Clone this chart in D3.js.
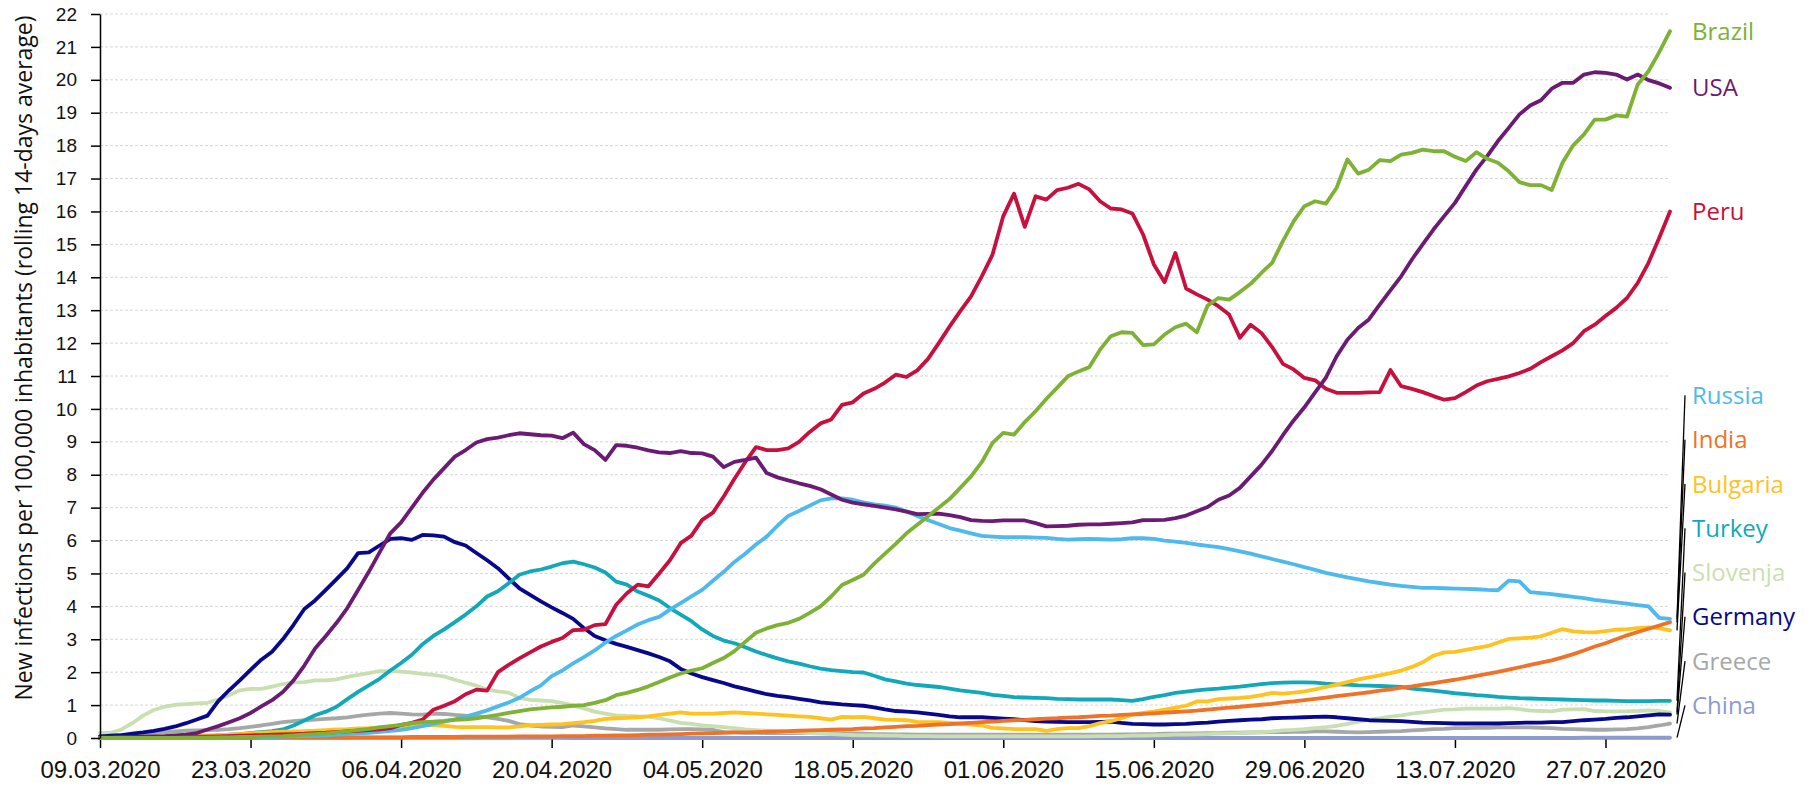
<!DOCTYPE html>
<html>
<head>
<meta charset="utf-8">
<script src="https://cdn.jsdelivr.net/npm/d3@7"></script>
<style>
  body { margin: 0; background: #fff; }
  svg { display: block; font-family: "Open Sans", "Noto Sans", sans-serif; }
  .grid line { stroke: #d6d6d6; stroke-width: 1; stroke-dasharray: 3,2; }
  .series { fill: none; stroke-width: 3.8; stroke-linejoin: round; stroke-linecap: round; }
  .axis text { fill: #111; }
  .axis line, .axis path { stroke: #000; }
</style>
</head>
<body>
<div id="chart"></div>
<script>
// daily values from 09.03.2020, new infections per 100k (rolling 14 days)
var startDay = "09.03.2020";
var xTickLabels = ["09.03.2020", "23.03.2020", "06.04.2020", "20.04.2020", "04.05.2020", "18.05.2020",
  "01.06.2020", "15.06.2020", "29.06.2020", "13.07.2020", "27.07.2020"];
var yTicks = d3.range(0, 23);

var brazil = [
  0, 0, 0, 0, 0, 0, 0, 0, 0.01, 0.01,
  0.01, 0.02, 0.02, 0.03, 0.03, 0.04, 0.05, 0.06, 0.08, 0.1,
  0.12, 0.14, 0.17, 0.2, 0.24, 0.28, 0.32, 0.36, 0.4, 0.45,
  0.48, 0.5, 0.52, 0.55, 0.57, 0.6, 0.65, 0.7, 0.76, 0.82,
  0.87, 0.9, 0.93, 0.95, 0.98, 1.0, 1.07, 1.15, 1.3, 1.37,
  1.46, 1.57, 1.7, 1.84, 1.96, 2.05, 2.12, 2.28, 2.43, 2.64,
  2.92, 3.2, 3.33, 3.43, 3.5, 3.62, 3.8, 4.0, 4.3, 4.65,
  4.8, 4.96, 5.3, 5.6, 5.9, 6.22, 6.48, 6.74, 7.0, 7.26,
  7.6, 7.95, 8.38, 8.97, 9.27, 9.22, 9.6, 9.93, 10.3, 10.64,
  10.99, 11.14, 11.27, 11.8, 12.21, 12.33, 12.31, 11.94, 11.96, 12.26,
  12.48, 12.59, 12.33, 13.14, 13.37, 13.32, 13.55, 13.8, 14.13, 14.44,
  15.1, 15.7, 16.16, 16.31, 16.24, 16.72, 17.58, 17.15, 17.27, 17.56,
  17.53, 17.73, 17.78, 17.88, 17.83, 17.83, 17.66, 17.53, 17.8, 17.6,
  17.48, 17.22, 16.89, 16.8, 16.8, 16.65, 17.48, 18.01, 18.34, 18.79,
  18.79, 18.92, 18.88, 19.86, 20.26, 20.84, 21.48];

var usa = [
  0.02, 0.02, 0.03, 0.03, 0.04, 0.05, 0.06, 0.08, 0.1, 0.15,
  0.26, 0.36, 0.48, 0.6, 0.76, 0.96, 1.15, 1.4, 1.75, 2.2,
  2.72, 3.1, 3.5, 3.95, 4.5, 5.05, 5.64, 6.22, 6.55, 7.0,
  7.45, 7.85, 8.2, 8.55, 8.75, 8.98, 9.08, 9.13, 9.2, 9.26,
  9.23, 9.2, 9.19, 9.11, 9.28, 8.93, 8.75, 8.45, 8.9, 8.88,
  8.82, 8.74, 8.68, 8.66, 8.72, 8.66, 8.65, 8.55, 8.23, 8.39,
  8.45, 8.52, 8.05, 7.92, 7.83, 7.74, 7.66, 7.56, 7.4, 7.24,
  7.15, 7.1, 7.05, 7.0, 6.95, 6.88, 6.8, 6.81, 6.82, 6.77,
  6.71, 6.62, 6.6, 6.59, 6.61, 6.61, 6.61, 6.53, 6.43, 6.44,
  6.45, 6.48, 6.49, 6.49, 6.51, 6.53, 6.55, 6.62, 6.62, 6.63,
  6.68, 6.76, 6.89, 7.02, 7.24, 7.37, 7.6, 7.95, 8.3, 8.72,
  9.2, 9.65, 10.05, 10.5, 10.95, 11.6, 12.1, 12.46, 12.72, 13.17,
  13.6, 14.03, 14.54, 15.0, 15.45, 15.86, 16.26, 16.77, 17.27, 17.68,
  18.14, 18.54, 18.95, 19.22, 19.38, 19.73, 19.91, 19.91, 20.16, 20.23,
  20.21, 20.16, 20.01, 20.16, 19.99, 19.89, 19.76];

var peru = [
  0, 0, 0, 0.01, 0.01, 0.01, 0.02, 0.02, 0.03, 0.04,
  0.04, 0.05, 0.06, 0.07, 0.08, 0.09, 0.1, 0.11, 0.12, 0.13,
  0.15, 0.16, 0.18, 0.2, 0.22, 0.24, 0.26, 0.3, 0.4, 0.46,
  0.56, 0.86, 0.98, 1.12, 1.33, 1.47, 1.44, 2.0, 2.22, 2.42,
  2.6, 2.78, 2.92, 3.04, 3.28, 3.29, 3.43, 3.46, 4.05, 4.4,
  4.66, 4.61, 5.0, 5.4, 5.92, 6.15, 6.63, 6.85, 7.34, 7.88,
  8.38, 8.84, 8.75, 8.75, 8.8, 9.0, 9.3, 9.56, 9.68, 10.12,
  10.2, 10.47, 10.61, 10.8, 11.04, 10.97, 11.17, 11.52, 12.0, 12.5,
  12.97, 13.42, 14.03, 14.69, 15.86, 16.54, 15.53, 16.46, 16.36, 16.65,
  16.72, 16.84, 16.67, 16.31, 16.09, 16.06, 15.94, 15.3, 14.39, 13.85,
  14.74, 13.66, 13.48, 13.32, 13.12, 12.87, 12.16, 12.56, 12.31, 11.88,
  11.37, 11.2, 10.94, 10.87, 10.61, 10.49, 10.49, 10.49, 10.5, 10.51,
  11.18, 10.69, 10.61, 10.51, 10.39, 10.28, 10.33, 10.51, 10.71, 10.84,
  10.91, 10.99, 11.09, 11.22, 11.42, 11.6, 11.78, 12.0, 12.36, 12.56,
  12.82, 13.07, 13.37, 13.83, 14.44, 15.2, 16.0];

var russia = [
  0, 0, 0, 0, 0, 0, 0, 0, 0, 0.01,
  0.01, 0.01, 0.01, 0.02, 0.02, 0.03, 0.03, 0.04, 0.05, 0.06,
  0.07, 0.08, 0.1, 0.12, 0.14, 0.16, 0.19, 0.22, 0.25, 0.3,
  0.36, 0.43, 0.5, 0.57, 0.65, 0.74, 0.84, 0.96, 1.08, 1.22,
  1.42, 1.6, 1.88, 2.05, 2.27, 2.46, 2.66, 2.9, 3.1, 3.27,
  3.45, 3.58, 3.68, 3.9, 4.1, 4.3, 4.5, 4.78, 5.05, 5.35,
  5.6, 5.88, 6.12, 6.45, 6.75, 6.9, 7.06, 7.22, 7.28, 7.28,
  7.24, 7.16, 7.1, 7.06, 7.0, 6.88, 6.75, 6.62, 6.5, 6.38,
  6.3, 6.22, 6.14, 6.12, 6.1, 6.1, 6.1, 6.09, 6.08, 6.05,
  6.03, 6.04, 6.05, 6.04, 6.03, 6.04, 6.07, 6.07, 6.05, 6.0,
  5.97, 5.93, 5.88, 5.84, 5.8, 5.74, 5.67, 5.6, 5.52, 5.44,
  5.36, 5.28, 5.19, 5.11, 5.02, 4.95, 4.88, 4.82, 4.76, 4.71,
  4.66, 4.62, 4.59, 4.56, 4.56, 4.55, 4.54, 4.53, 4.52, 4.5,
  4.49, 4.78, 4.76, 4.43, 4.4, 4.37, 4.33, 4.29, 4.25, 4.2,
  4.16, 4.12, 4.08, 4.04, 4.0, 3.65, 3.62];

var india = [
  0, 0, 0, 0, 0, 0, 0, 0, 0, 0,
  0, 0, 0, 0, 0, 0.01, 0.01, 0.01, 0.01, 0.01,
  0.01, 0.01, 0.01, 0.01, 0.02, 0.02, 0.02, 0.02, 0.02, 0.03,
  0.03, 0.03, 0.03, 0.03, 0.04, 0.04, 0.04, 0.04, 0.04, 0.05,
  0.05, 0.05, 0.05, 0.06, 0.06, 0.06, 0.07, 0.07, 0.08, 0.08,
  0.09, 0.1, 0.1, 0.11, 0.12, 0.13, 0.14, 0.15, 0.16, 0.17,
  0.17, 0.18, 0.19, 0.2, 0.21, 0.22, 0.23, 0.24, 0.25, 0.26,
  0.27, 0.29, 0.3, 0.32, 0.34, 0.36, 0.37, 0.39, 0.41, 0.42,
  0.44, 0.46, 0.48, 0.5, 0.52, 0.54, 0.55, 0.57, 0.59, 0.6,
  0.62, 0.63, 0.65, 0.67, 0.68, 0.7, 0.72, 0.73, 0.75, 0.77,
  0.79, 0.81, 0.83, 0.86, 0.89, 0.92, 0.95, 0.98, 1.01, 1.04,
  1.08, 1.11, 1.15, 1.19, 1.23, 1.27, 1.31, 1.35, 1.39, 1.44,
  1.48, 1.53, 1.57, 1.62, 1.67, 1.72, 1.77, 1.83, 1.89, 1.95,
  2.01, 2.08, 2.15, 2.22, 2.29, 2.36, 2.45, 2.55, 2.66, 2.78,
  2.88, 3.0, 3.12, 3.22, 3.32, 3.42, 3.52];

var bulgaria = [
  0, 0, 0.01, 0.01, 0.02, 0.03, 0.04, 0.05, 0.06, 0.07,
  0.08, 0.09, 0.1, 0.12, 0.14, 0.16, 0.18, 0.19, 0.2, 0.21,
  0.22, 0.24, 0.26, 0.27, 0.29, 0.3, 0.32, 0.33, 0.35, 0.37,
  0.39, 0.39, 0.37, 0.34, 0.33, 0.33, 0.33, 0.32, 0.32, 0.35,
  0.39, 0.4, 0.41, 0.42, 0.45, 0.48, 0.52, 0.58, 0.6, 0.61,
  0.63, 0.66, 0.7, 0.74, 0.78, 0.74, 0.74, 0.74, 0.76, 0.78,
  0.76, 0.74, 0.72, 0.7, 0.68, 0.66, 0.64, 0.6, 0.56, 0.64,
  0.63, 0.64, 0.6, 0.56, 0.55, 0.54, 0.49, 0.48, 0.48, 0.46,
  0.43, 0.41, 0.38, 0.31, 0.29, 0.27, 0.27, 0.27, 0.22, 0.27,
  0.3, 0.3, 0.36, 0.45, 0.51, 0.6, 0.71, 0.76, 0.8, 0.86,
  0.92, 0.98, 1.11, 1.11, 1.18, 1.2, 1.22, 1.25, 1.3, 1.37,
  1.35, 1.38, 1.42, 1.48, 1.55, 1.62, 1.7, 1.78, 1.84, 1.9,
  1.97, 2.05, 2.16, 2.3, 2.5, 2.6, 2.62, 2.68, 2.74, 2.79,
  2.9, 3.01, 3.03, 3.05, 3.09, 3.2, 3.31, 3.24, 3.22, 3.21,
  3.25, 3.29, 3.31, 3.34, 3.36, 3.34, 3.27];

var turkey = [
  0, 0, 0, 0, 0, 0, 0.01, 0.02, 0.03, 0.04,
  0.06, 0.08, 0.1, 0.12, 0.15, 0.18, 0.21, 0.26, 0.38, 0.53,
  0.69, 0.8, 0.95, 1.18, 1.4, 1.6, 1.8, 2.05, 2.28, 2.53,
  2.85, 3.1, 3.3, 3.52, 3.75, 4.0, 4.3, 4.46, 4.7, 4.96,
  5.06, 5.12, 5.21, 5.31, 5.36, 5.28, 5.18, 5.03, 4.75, 4.66,
  4.45, 4.32, 4.18, 3.95, 3.75, 3.55, 3.3, 3.1, 2.96, 2.88,
  2.76, 2.63, 2.52, 2.42, 2.33, 2.26, 2.18, 2.11, 2.06, 2.03,
  2.0, 1.99, 1.89, 1.78, 1.72, 1.65, 1.61, 1.58, 1.55, 1.5,
  1.45, 1.41, 1.37, 1.31, 1.28, 1.24, 1.23, 1.22, 1.21, 1.19,
  1.18, 1.17, 1.17, 1.17, 1.17, 1.15, 1.13, 1.18, 1.25, 1.3,
  1.37, 1.41, 1.45, 1.48, 1.5, 1.53, 1.56, 1.6, 1.64, 1.67,
  1.68, 1.69, 1.69, 1.68, 1.65, 1.63, 1.62, 1.6, 1.59, 1.58,
  1.57, 1.55, 1.5, 1.47, 1.44, 1.4, 1.36, 1.33, 1.3, 1.28,
  1.25, 1.23, 1.21, 1.2, 1.19, 1.18, 1.17, 1.16, 1.15, 1.14,
  1.14, 1.13, 1.12, 1.12, 1.12, 1.13, 1.13];

var slovenja = [
  0.15, 0.16, 0.26, 0.45, 0.68, 0.85, 0.95, 1.01, 1.03, 1.05,
  1.07, 1.17, 1.3, 1.45, 1.49, 1.49, 1.56, 1.64, 1.69, 1.7,
  1.75, 1.75, 1.78, 1.86, 1.92, 1.97, 2.03, 2.03, 2.02, 1.99,
  1.95, 1.92, 1.87, 1.77, 1.68, 1.59, 1.47, 1.42, 1.38, 1.22,
  1.16, 1.14, 1.12, 1.06, 0.99, 0.9, 0.8, 0.74, 0.69, 0.67,
  0.66, 0.65, 0.6, 0.53, 0.46, 0.43, 0.38, 0.36, 0.33, 0.3,
  0.26, 0.24, 0.22, 0.2, 0.18, 0.17, 0.15, 0.13, 0.12, 0.1,
  0.09, 0.08, 0.08, 0.07, 0.07, 0.06, 0.06, 0.06, 0.05, 0.05,
  0.05, 0.05, 0.05, 0.05, 0.05, 0.05, 0.05, 0.05, 0.05, 0.05,
  0.05, 0.05, 0.05, 0.06, 0.06, 0.06, 0.07, 0.07, 0.08, 0.09,
  0.1, 0.1, 0.11, 0.12, 0.13, 0.14, 0.15, 0.16, 0.18, 0.2,
  0.23, 0.25, 0.27, 0.3, 0.33, 0.37, 0.43, 0.5, 0.55, 0.6,
  0.65, 0.69, 0.74, 0.78, 0.82, 0.86, 0.87, 0.89, 0.89, 0.89,
  0.89, 0.91, 0.88, 0.83, 0.82, 0.81, 0.86, 0.87, 0.88, 0.82,
  0.81, 0.81, 0.81, 0.82, 0.84, 0.82, 0.78];

var germany = [
  0.05, 0.07, 0.09, 0.13, 0.17, 0.22, 0.28, 0.35, 0.45, 0.56,
  0.68, 1.12, 1.45, 1.75, 2.07, 2.38, 2.62, 3.0, 3.44, 3.92,
  4.18, 4.5, 4.83, 5.16, 5.62, 5.64, 5.85, 6.05, 6.07, 6.02,
  6.17, 6.16, 6.12, 5.95, 5.85, 5.62, 5.4, 5.16, 4.85, 4.55,
  4.35, 4.15, 3.97, 3.8, 3.62, 3.34, 3.1, 2.97, 2.86, 2.77,
  2.67, 2.57, 2.46, 2.33, 2.1, 1.96, 1.85, 1.76, 1.67, 1.57,
  1.49, 1.41, 1.33, 1.28, 1.24, 1.19, 1.14, 1.08, 1.05, 1.02,
  1.0, 0.98, 0.93, 0.87, 0.82, 0.8, 0.78, 0.74, 0.7, 0.66,
  0.63, 0.63, 0.63, 0.61, 0.59, 0.57, 0.54, 0.51, 0.5, 0.49,
  0.48, 0.48, 0.48, 0.49, 0.5, 0.46, 0.43, 0.42, 0.41, 0.41,
  0.42, 0.43, 0.45, 0.47, 0.5, 0.52, 0.54, 0.56, 0.57, 0.6,
  0.61, 0.62, 0.63, 0.64, 0.65, 0.63, 0.6, 0.57, 0.54, 0.53,
  0.52, 0.51, 0.49, 0.47, 0.46, 0.45, 0.44, 0.44, 0.44, 0.44,
  0.44, 0.45, 0.46, 0.47, 0.47, 0.48, 0.48, 0.51, 0.54, 0.56,
  0.58, 0.61, 0.63, 0.66, 0.69, 0.72, 0.71];

var greece = [
  0.05, 0.07, 0.09, 0.11, 0.13, 0.15, 0.17, 0.2, 0.22, 0.23,
  0.24, 0.25, 0.27, 0.3, 0.34, 0.38, 0.43, 0.48, 0.51, 0.54,
  0.56, 0.58, 0.6, 0.63, 0.67, 0.71, 0.74, 0.76, 0.74, 0.72,
  0.71, 0.74, 0.73, 0.7, 0.68, 0.67, 0.63, 0.58, 0.52, 0.42,
  0.38, 0.35, 0.34, 0.33, 0.38, 0.35, 0.32, 0.29, 0.27, 0.25,
  0.25, 0.25, 0.25, 0.26, 0.27, 0.27, 0.26, 0.25, 0.18, 0.17,
  0.16, 0.16, 0.15, 0.15, 0.15, 0.15, 0.15, 0.15, 0.15, 0.15,
  0.14, 0.13, 0.12, 0.12, 0.11, 0.11, 0.1, 0.1, 0.1, 0.1,
  0.1, 0.1, 0.1, 0.1, 0.1, 0.1, 0.1, 0.1, 0.1, 0.1,
  0.1, 0.1, 0.1, 0.1, 0.1, 0.11, 0.11, 0.12, 0.12, 0.13,
  0.13, 0.14, 0.14, 0.15, 0.15, 0.16, 0.16, 0.17, 0.17, 0.18,
  0.18, 0.19, 0.19, 0.2, 0.2, 0.19, 0.18, 0.17, 0.18, 0.19,
  0.2, 0.21, 0.23, 0.25, 0.27, 0.28, 0.3, 0.3, 0.31, 0.31,
  0.32, 0.32, 0.32, 0.32, 0.31, 0.3, 0.28, 0.27, 0.26, 0.25,
  0.25, 0.26, 0.27, 0.29, 0.33, 0.38, 0.44];

var china = [
  0.02, 0.02, 0.02, 0.01, 0.01, 0.01, 0.01, 0.01, 0.01, 0.01,
  0.01, 0.01, 0.01, 0.01, 0.01, 0.01, 0.01, 0.01, 0.01, 0.01,
  0.01, 0.01, 0.01, 0.01, 0.01, 0.01, 0.01, 0.01, 0.01, 0.01,
  0.01, 0.01, 0.01, 0.01, 0.01, 0.01, 0.01, 0.01, 0.01, 0.01,
  0.01, 0.01, 0.01, 0.01, 0, 0, 0, 0, 0, 0,
  0, 0, 0, 0, 0, 0, 0, 0, 0, 0,
  0, 0, 0, 0, 0, 0, 0, 0, 0, 0,
  0, 0, 0, 0, 0, 0, 0, 0, 0, 0,
  0, 0, 0, 0, 0, 0, 0, 0, 0, 0,
  0, 0, 0, 0, 0, 0, 0, 0, 0, 0,
  0, 0, 0, 0, 0, 0, 0, 0, 0, 0,
  0, 0, 0, 0, 0, 0, 0, 0, 0, 0,
  0, 0, 0, 0, 0, 0, 0, 0, 0, 0,
  0, 0, 0, 0, 0, 0, 0, 0, 0.01, 0.01,
  0.01, 0.01, 0.01, 0.01, 0.01, 0.01, 0.01];

// drawing order: first one ends up at the bottom
var series = [
  {name: "China", color: "#8e9bd0", values: china},
  {name: "Greece", color: "#a6a8a8", values: greece},
  {name: "Slovenja", color: "#cadfb1", values: slovenja},
  {name: "Germany", color: "#08088c", values: germany},
  {name: "Turkey", color: "#11a9b9", values: turkey},
  {name: "Bulgaria", color: "#ffc21e", values: bulgaria},
  {name: "India", color: "#f07226", values: india},
  {name: "Russia", color: "#4eb9ec", values: russia},
  {name: "Peru", color: "#c8103e", values: peru},
  {name: "USA", color: "#6c1b74", values: usa},
  {name: "Brazil", color: "#7db234", values: brazil}
];
// labels stacked at the right with leader lines
var stacked = ["Russia", "India", "Bulgaria", "Turkey", "Slovenja", "Germany", "Greece", "China"];

var margin = {top: 14, right: 147, bottom: 49, left: 100},
  width = 1817 - margin.left - margin.right,
  height = 787 - margin.top - margin.bottom;

var svg = d3.select("#chart")
  .append("svg")
  .attr("width", width + margin.left + margin.right)
  .attr("height", height + margin.top + margin.bottom)
  .append("g")
  .attr("transform", "translate(" + margin.left + "," + margin.top + ")");

var parse = d3.utcParse("%d.%m.%Y");
var start = parse(startDay);
var nDays = brazil.length;
var dates = d3.range(nDays).map(function(i) { return d3.utcDay.offset(start, i); });

var x = d3.scaleUtc()
  .domain([start, dates[nDays - 1]])
  .range([0, width]);

var y = d3.scaleLinear()
  .domain([0, 22])
  .range([height, 0]);

// gridlines
svg.append("g")
  .attr("class", "grid")
  .selectAll("line")
  .data(yTicks.filter(function(v) { return v > 0; }))
  .enter().append("line")
  .attr("x1", 0)
  .attr("x2", width)
  .attr("y1", function(v) { return y(v); })
  .attr("y2", function(v) { return y(v); });

var xAxis = svg.append("g")
  .attr("class", "axis")
  .attr("transform", "translate(0," + height + ")")
  .call(d3.axisBottom(x)
    .tickValues(xTickLabels.map(parse))
    .tickFormat(d3.utcFormat("%d.%m.%Y"))
    .tickSize(10)
    .tickSizeOuter(0)
    .tickPadding(13));
xAxis.selectAll("text").style("font-size", "24px");
xAxis.selectAll("line, path").attr("stroke-width", 1.5);

var line = d3.line()
  .x(function(d, i) { return x(dates[i]); })
  .y(function(d) { return y(d); });

svg.selectAll(".series")
  .data(series)
  .enter().append("path")
  .attr("class", "series")
  .attr("stroke", function(s) { return s.color; })
  .attr("d", function(s) { return line(s.values); });

var yAxis = svg.append("g")
  .attr("class", "axis")
  .call(d3.axisLeft(y)
    .tickValues(yTicks)
    .tickSize(9)
    .tickSizeOuter(0)
    .tickPadding(14));
yAxis.selectAll("text").style("font-size", "19px");
yAxis.selectAll("line, path").attr("stroke-width", 1.5);

svg.append("text")
  .attr("transform", "translate(" + (32 - margin.left) + "," + (358 - margin.top) + ") rotate(-90)")
  .attr("text-anchor", "middle")
  .style("font-size", "23px")
  .style("fill", "#111")
  .text("New infections per 100,000 inhabitants (rolling 14-days average)");

// end labels
var labelX = width + 22;
series.forEach(function(s) {
  var last = s.values[s.values.length - 1];
  var idx = stacked.indexOf(s.name);
  var ly = idx < 0 ? y(last) : (395.3 - margin.top) + idx * 44.3;
  if (idx >= 0) {
    svg.append("line")
      .attr("x1", width + 15)
      .attr("y1", ly)
      .attr("x2", width + 7)
      .attr("y2", y(last))
      .attr("stroke", "#000")
      .attr("stroke-width", 1.3);
  }
  svg.append("text")
    .attr("x", labelX)
    .attr("y", ly)
    .attr("dy", "0.36em")
    .style("font-size", "24px")
    .style("fill", s.color)
    .text(s.name);
});
</script>
</body>
</html>
